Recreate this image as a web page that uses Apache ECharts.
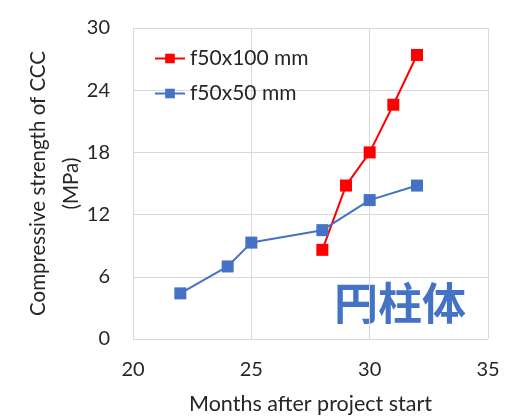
<!DOCTYPE html>
<html>
<head>
<meta charset="utf-8">
<script src="https://cdn.jsdelivr.net/npm/echarts@6/dist/echarts.min.js"></script>
<style>
  html, body { margin: 0; padding: 0; background: #fff; }
  #main { width: 506px; height: 420px; }
</style>
</head>
<body>
<div id="main"></div>
<script>
// 数据
var monthsLong = [28, 29, 30, 31, 32];
var strengthLong = [8.6, 14.8, 18.0, 22.6, 27.4];   // f50x100 mm
var monthsShort = [22, 24, 25, 28, 30, 32];
var strengthShort = [4.4, 7.0, 9.3, 10.5, 13.4, 14.8]; // f50x50 mm
var seriesNames = ['f50x100 mm', 'f50x50 mm'];

function pairs(xs, ys) {
  var out = [];
  for (var i = 0; i < xs.length; i++) out.push([xs[i], ys[i]]);
  return out;
}

var myChart = echarts.init(document.getElementById('main'));
var font = 'Lato, "Noto Sans", sans-serif';
var option = {
  backgroundColor: '#fff',
  animation: false,
  grid: { left: 133, right: 18, top: 28, bottom: 80 },
  legend: {
    orient: 'vertical',
    left: 149,
    top: 43,
    itemGap: 14,
    itemWidth: 30,
    itemHeight: 12,
    data: seriesNames,
    textStyle: { fontFamily: font, fontSize: 21, color: '#262626' }
  },
  graphic: [{
    type: 'text',
    left: 334,
    top: 281,
    style: {
      text: '円柱体',
      font: 'bold 44px "Noto Sans CJK SC"',
      fill: '#4472C4'
    }
  }],
  xAxis: {
    type: 'value',
    min: 20, max: 35, interval: 5,
    name: 'Months after project start',
    nameLocation: 'middle',
    nameGap: 54,
    nameMoveOverlap: false,
    nameTextStyle: { fontFamily: font, fontSize: 21.5, color: '#262626' },
    axisLine: { show: false },
    axisTick: { show: false },
    axisLabel: { margin: 21, fontFamily: font, fontSize: 20, color: '#262626' },
    splitLine: { show: true, lineStyle: { color: '#d9d9d9', width: 1 } }
  },
  yAxis: {
    type: 'value',
    min: 0, max: 30, interval: 6,
    name: 'Compressive strength of CCC\n(MPa)',
    nameLocation: 'middle',
    nameGap: 45,
    nameMoveOverlap: false,
    nameTextStyle: { fontFamily: font, fontSize: 20.5, color: '#262626', lineHeight: 33 },
    axisLine: { show: false },
    axisTick: { show: false },
    axisLabel: { margin: 23, fontFamily: font, fontSize: 20, color: '#262626' },
    splitLine: { show: true, lineStyle: { color: '#d9d9d9', width: 1 } }
  },
  series: [
    {
      name: seriesNames[0],
      type: 'line',
      data: pairs(monthsLong, strengthLong),
      symbol: 'rect',
      symbolSize: 12,
      itemStyle: { color: '#FF0000' },
      lineStyle: { color: '#FF0000', width: 2 },
      z: 3
    },
    {
      name: seriesNames[1],
      type: 'line',
      data: pairs(monthsShort, strengthShort),
      symbol: 'rect',
      symbolSize: 12,
      itemStyle: { color: '#4472C4' },
      lineStyle: { color: '#4472C4', width: 2 },
      z: 4
    }
  ]
};
myChart.setOption(option);
</script>
</body>
</html>
